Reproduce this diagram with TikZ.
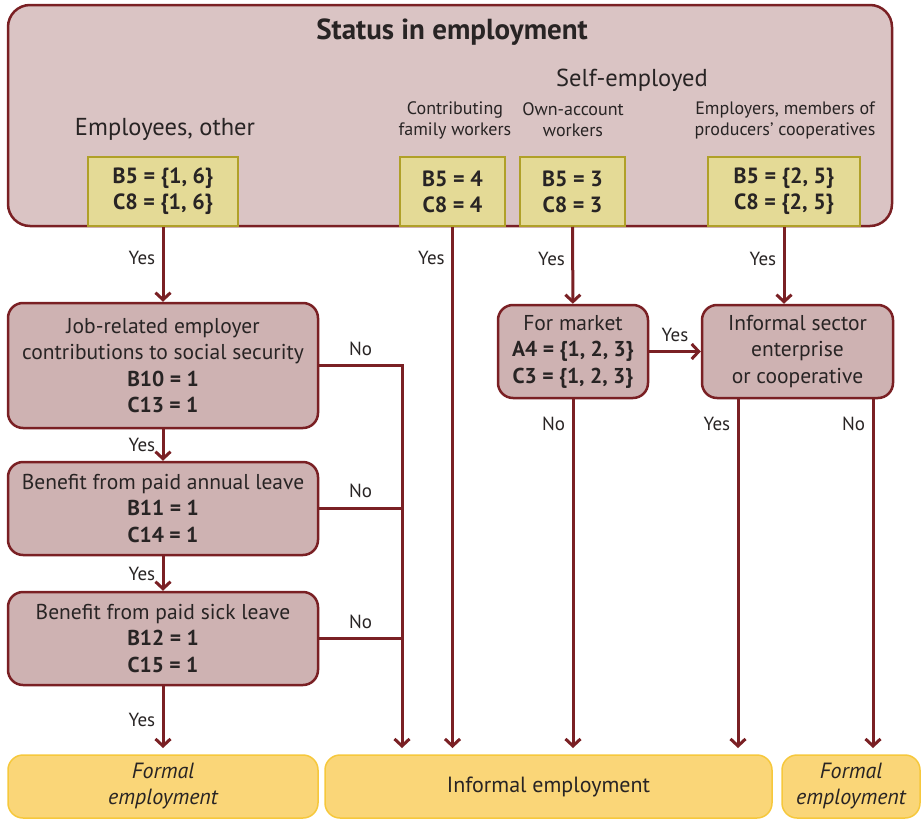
\documentclass[tikz,border=0pt]{standalone}
\usepackage{fontspec}
\setmainfont{PT Sans}
\usetikzlibrary{arrows.meta}

\definecolor{brickred}{RGB}{122,32,36}
\definecolor{framepink}{RGB}{218,196,196}
\definecolor{testpink}{RGB}{206,178,178}
\definecolor{codefill}{RGB}{228,218,150}
\definecolor{codeline}{RGB}{176,160,40}
\definecolor{goldfill}{RGB}{250,214,120}
\definecolor{goldline}{RGB}{246,200,60}
\definecolor{inkgray}{RGB}{40,36,36}

\newcommand{\titlesize}{\fontsize{29}{32}\selectfont\bfseries}
\newcommand{\headsize}{\fontsize{24.5}{28}\selectfont}
\newcommand{\groupsize}{\fontsize{18}{21}\selectfont}
\newcommand{\boxsize}{\fontsize{21.5}{26.5}\selectfont}
\newcommand{\codesize}{\fontsize{22}{26}\selectfont\bfseries}
\newcommand{\resultsize}{\fontsize{22}{26}\selectfont}
\newcommand{\answersize}{\fontsize{19}{22}\selectfont}

\tikzstyle{frame} = [draw=brickred, line width=2.5pt, fill=framepink, rounded corners=22pt]
\tikzstyle{codebox} = [draw=codeline, line width=1.5pt, fill=codefill, align=center,
  font=\codesize, text=inkgray, minimum height=69pt]
\tikzstyle{testbox} = [draw=brickred, line width=2.5pt, fill=testpink, rounded corners=15pt,
  align=center, font=\boxsize, text=inkgray, minimum height=93pt, inner sep=1pt]
\tikzstyle{outcome} = [draw=goldline, line width=1.5pt, fill=goldfill, rounded corners=15pt,
  align=center, font=\resultsize, text=inkgray, minimum height=63pt]
\tikzstyle{flow} = [draw=brickred, line width=3pt, -{Straight Barb[length=7pt,width=15pt,line width=3pt]}]
\tikzstyle{branch} = [draw=brickred, line width=3pt]
\tikzstyle{answer} = [font=\answersize, text=inkgray]

\begin{document}
\begin{tikzpicture}[x=1pt, y=-1pt]
  \useasboundingbox (0,0) rectangle (922,822);

  % status in employment
  \node (status) at (450,115.5) [frame, minimum width=884pt, minimum height=221pt] {};
  \node (title) at (452,32) [font=\titlesize, text=inkgray] {Status in employment};
  \node (selfemp) at (632,80) [font=\headsize, text=inkgray] {Self-employed};
  \node (employees) at (165,129) [font=\headsize, text=inkgray] {Employees, other};
  \node (family) at (455,120) [font=\groupsize, text=inkgray, align=center] {Contributing\\family workers};
  \node (ownacc) at (573,120) [font=\groupsize, text=inkgray, align=center] {Own-account\\workers};
  \node (employers) at (785,120) [font=\groupsize, text=inkgray, align=center] {Employers, members of\\producers' cooperatives};

  \node (emp) at (163,191.5) [codebox, minimum width=150pt] {B5 = \{1, 6\}\\C8 = \{1, 6\}};
  \node (fam) at (452.5,191.5) [codebox, minimum width=105pt] {B5 = 4\\C8 = 4};
  \node (own) at (572.5,191.5) [codebox, minimum width=105pt] {B5 = 3\\C8 = 3};
  \node (boss) at (784,191.5) [codebox, minimum width=152pt] {B5 = \{2, 5\}\\C8 = \{2, 5\}};

  % questions
  \node (social) at (163,365.5) [testbox, minimum width=310pt, minimum height=125pt]
    {Job-related employer\\contributions to social security\\\textbf{B10 = 1}\\\textbf{C13 = 1}};
  \node (annual) at (163,508.5) [testbox, minimum width=310pt]
    {Benefit from paid annual leave\\\textbf{B11 = 1}\\\textbf{C14 = 1}};
  \node (sick) at (163,638.5) [testbox, minimum width=310pt]
    {Benefit from paid sick leave\\\textbf{B12 = 1}\\\textbf{C15 = 1}};
  \node (market) at (573,351.5) [testbox, minimum width=150pt]
    {For market\\\textbf{A4 = \{1, 2, 3\}}\\\textbf{C3 = \{1, 2, 3\}}};
  \node (sector) at (797.5,351.5) [testbox, minimum width=191pt]
    {Informal sector\\enterprise\\or cooperative};

  % results
  \node (formalA) at (163,786.5) [outcome, minimum width=310pt] {\itshape Formal\\\itshape employment};
  \node (informal) at (548.5,786.5) [outcome, minimum width=447pt] {Informal employment};
  \node (formalB) at (851,786.5) [outcome, minimum width=138pt] {\itshape Formal\\\itshape employment};

  \coordinate (nojoin) at (402,748);
  \coordinate (yesline) at (738,748);
  \coordinate (noline) at (873,748);

  \draw [flow] (emp) to node [answer, left, pos=0.42, xshift=-3pt] {Yes} (social);
  \draw [flow] (fam) to node [answer, left, pos=0.06, xshift=-3pt] {Yes} (fam |- nojoin);
  \draw [flow] (own) to node [answer, left, pos=0.42, xshift=-3pt] {Yes} (market);
  \draw [flow] (boss) to node [answer, left, pos=0.42, xshift=-3pt] {Yes} (boss |- sector.north);

  \draw [flow] (social) to node [answer, left, xshift=-3pt] {Yes} (annual);
  \draw [flow] (annual) to node [answer, left, xshift=-3pt] {Yes} (sick);
  \draw [flow] (sick) to node [answer, left, pos=0.55, xshift=-3pt] {Yes} (sick |- nojoin);

  \draw [flow] (social.east) to node [answer, above, yshift=5pt] {No} (social.east -| nojoin) -- (nojoin);
  \draw [branch] (annual.east) to node [answer, above, yshift=6pt] {No} (annual.east -| nojoin);
  \draw [branch] (sick.east) to node [answer, above, yshift=5pt] {No} (sick.east -| nojoin);

  \draw [flow] (market) to node [answer, above, yshift=5pt] {Yes} (sector);
  \draw [flow] (market) to node [answer, left, pos=0.07, xshift=-3pt] {No} (market |- nojoin);
  \draw [flow] (sector.south -| yesline) to node [answer, left, pos=0.07, xshift=-3pt] {Yes} (yesline);
  \draw [flow] (sector.south -| noline) to node [answer, left, pos=0.07, xshift=-3pt] {No} (noline);
\end{tikzpicture}
\end{document}
